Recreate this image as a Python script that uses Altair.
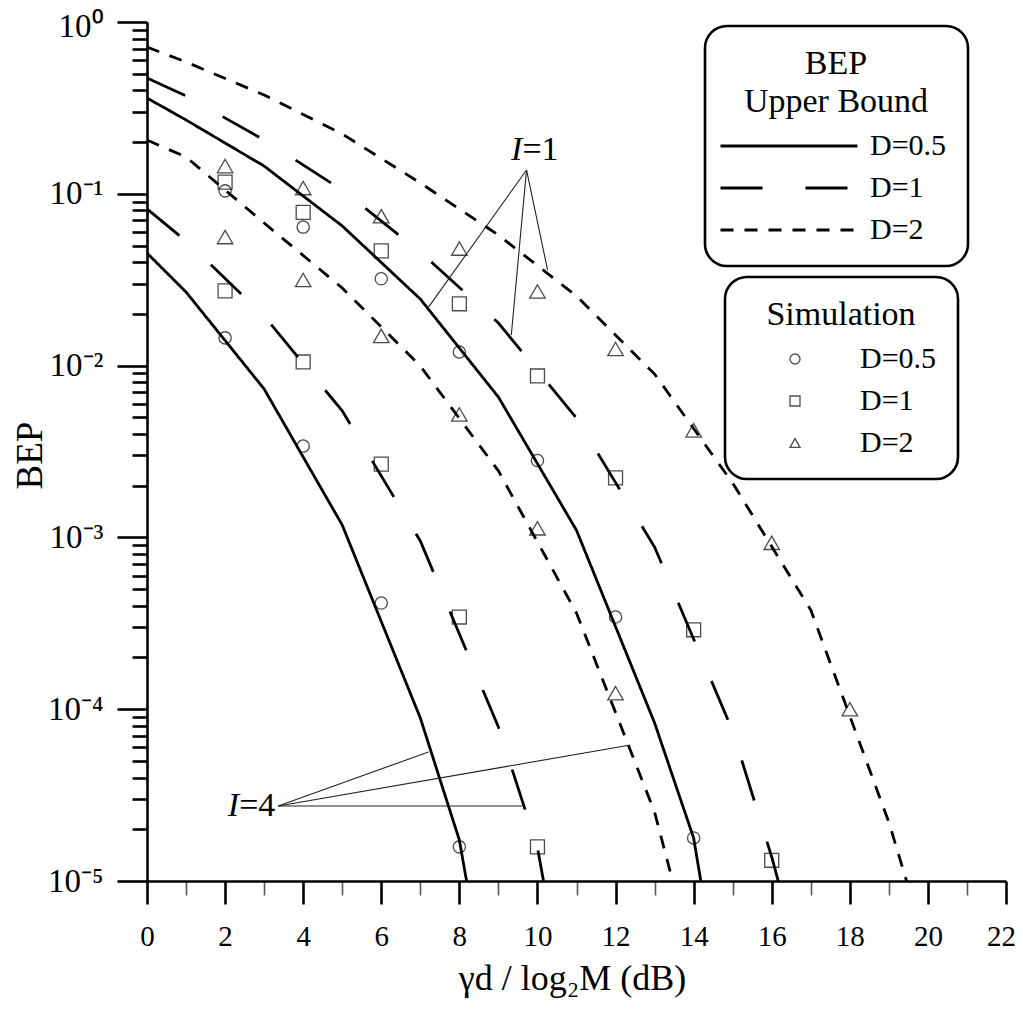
import altair as alt
import pandas as pd

FONT = "Liberation Serif"

# ---------------- Upper bound curves ----------------
ub_x_i4_d05 = [0, 1, 3, 5, 7, 8, 9]
ub_y_i4_d05 = [0.0452, 0.0268, 7.31e-3, 1.18e-3, 8.89e-5, 1.73e-5, 8.9e-7]
ub_x_i4_d1 = [0, 1, 3, 5, 7, 9, 10, 11]
ub_y_i4_d1 = [0.0817, 0.0531, 0.01945, 5.45e-3, 9.53e-4, 7.87e-5, 1.56e-5, 8.9e-7]
ub_x_i4_d2 = [0, 1, 3, 5, 7, 9, 11, 13, 14]
ub_y_i4_d2 = [0.2056, 0.1637, 0.0676, 0.0283, 9.95e-3, 2.44e-3, 3.63e-4, 2.52e-5, 3.4e-6]
ub_x_i1_d05 = [0, 1, 3, 5, 7, 9, 11, 13, 14, 15]
ub_y_i1_d05 = [0.361, 0.269, 0.145, 0.0650, 0.0244, 6.56e-3, 1.10e-3, 8.32e-5, 1.78e-5, 7.7e-7]
ub_x_i1_d1 = [0, 1, 3, 5, 7, 9, 11, 13, 15, 16, 17]
ub_y_i1_d1 = [0.472, 0.371, 0.2056, 0.1052, 0.0458, 0.0177, 4.95e-3, 8.79e-4, 7.46e-5, 1.38e-5, 1.98e-6]
ub_x_i1_d2 = [0, 1, 3, 5, 7, 9, 11, 13, 15, 17, 19, 20]
ub_y_i1_d2 = [0.715, 0.585, 0.376, 0.223, 0.1156, 0.0575, 0.0254, 8.93e-3, 2.07e-3, 3.78e-4, 2.20e-5, 3.86e-6]

# ---------------- Simulation points ----------------
sim_x_i4_d05 = [2, 4, 6, 8]
sim_y_i4_d05 = [0.0145, 3.4e-3, 4.15e-4, 1.58e-5]
sim_x_i1_d05 = [2, 4, 6, 8, 10, 12, 14]
sim_y_i1_d05 = [0.104, 0.064, 0.032, 0.012, 2.8e-3, 3.44e-4, 1.78e-5]
sim_x_i4_d1 = [2, 4, 6, 8, 10]
sim_y_i4_d1 = [0.0272, 0.0105, 2.67e-3, 3.44e-4, 1.58e-5]
sim_x_i1_d1 = [2, 4, 6, 8, 10, 12, 14, 16]
sim_y_i1_d1 = [0.117, 0.078, 0.0465, 0.0229, 8.7e-3, 2.22e-3, 2.9e-4, 1.32e-5]
sim_x_i4_d2 = [2, 4, 6, 8, 10, 12]
sim_y_i4_d2 = [0.056, 0.0315, 0.0149, 5.2e-3, 1.13e-3, 1.24e-4]
sim_x_i1_d2 = [2, 4, 6, 8, 10, 12, 14, 16, 18]
sim_y_i1_d2 = [0.145, 0.108, 0.074, 0.048, 0.027, 0.0125, 4.2e-3, 9.3e-4, 1.0e-4]

D_values = ["0.5", "1", "2"]           # D parameter of the upper-bound curves
D_labels = ["D=0.5", "D=1", "D=2"]     # D parameter of the simulation points
D_numbers = [0.5, 1, 2]                # same, numeric (marker size key)

# ---------------- Annotations ----------------
ann_x = [9.72, 9.72, 9.72, 3.36, 3.36, 3.36]
ann_y = [0.1376, 0.1376, 0.1376, 2.73e-5, 2.73e-5, 2.73e-5]
ann_x2 = [7.21, 9.33, 10.26, 7.21, 12.38, 9.62]
ann_y2 = [0.0219, 0.01507, 0.036, 5.64e-5, 6.19e-5, 2.73e-5]
lab_x = [9.615, 2.36]
lab_y = [0.157, 2.39e-5]
lab_num = ["=1", "=4"]

ytick_pows = [0, -1, -2, -3, -4, -5]
ytick_text = ["10\u2070", "10\u207b\u00b9", "10\u207b\u00b2", "10\u207b\u00b3", "10\u207b\u2074", "10\u207b\u2075"]


def curves_df():
    rows = []
    sets = [
        (4, "0.5", ub_x_i4_d05, ub_y_i4_d05), (4, "1", ub_x_i4_d1, ub_y_i4_d1),
        (4, "2", ub_x_i4_d2, ub_y_i4_d2), (1, "0.5", ub_x_i1_d05, ub_y_i1_d05),
        (1, "1", ub_x_i1_d1, ub_y_i1_d1), (1, "2", ub_x_i1_d2, ub_y_i1_d2),
    ]
    for i, d, xs, ys in sets:
        for k, (a, b) in enumerate(zip(xs, ys)):
            rows.append({"x": a, "bep": b, "Dl": d, "I": i, "o": k})
    return pd.DataFrame(rows)


def sim_df():
    rows = []
    sets = [
        (4, 0, sim_x_i4_d05, sim_y_i4_d05), (1, 0, sim_x_i1_d05, sim_y_i1_d05),
        (4, 1, sim_x_i4_d1, sim_y_i4_d1), (1, 1, sim_x_i1_d1, sim_y_i1_d1),
        (4, 2, sim_x_i4_d2, sim_y_i4_d2), (1, 2, sim_x_i1_d2, sim_y_i1_d2),
    ]
    for i, j, xs, ys in sets:
        for a, b in zip(xs, ys):
            rows.append({"x": a, "bep": b, "Ds": D_labels[j], "Dn": D_numbers[j], "I": i})
    return pd.DataFrame(rows)


ann_df = pd.DataFrame({"x": ann_x, "bep": ann_y, "x2": ann_x2, "bep2": ann_y2})
lab_df = pd.DataFrame({"x": lab_x, "bep": lab_y, "num": lab_num, "I": ["I", "I"]})

is_major_y = "abs(log(datum.value)/LN10 - round(log(datum.value)/LN10)) < 0.001"
ylab = "''"
for p, t in zip(reversed(ytick_pows), reversed(ytick_text)):
    ylab = f"round(log(datum.value)/LN10) == {p} ? '{t}' : ({ylab})"
ylab_expr = f"({is_major_y}) ? ({ylab}) : ''"

yvals = [k * 10.0 ** e for e in range(-5, 0) for k in range(1, 10)] + [1.0]

x_axis = alt.Axis(
    values=list(range(0, 23)),
    labelExpr="datum.value % 2 == 0 ? format(datum.value, 'd') : ''",
    tickSize={"condition": {"test": "datum.value % 2 == 0", "value": 23}, "value": 14},
    tickWidth={"condition": {"test": "datum.value % 2 == 0", "value": 2.6}, "value": 1.6},
    tickColor={"condition": {"test": "datum.value % 2 == 0", "value": "black"}, "value": "#555555"},
    labelOffset={"condition": {"test": "datum.value > 21", "value": -5}, "value": 0},
    labelPadding=18, labelFontSize=29, labelFont=FONT, labelColor="black",
    labelFlush=False, labelOverlap=False, labelBound=False,
    domainColor="black", domainWidth=2.6, grid=False,
    title="\u03b3d / log\u2082M (dB)", titleFont=FONT, titleFontSize=36,
    titleFontWeight="normal", titleColor="black",
    titleX=425, titleY=97, titleBaseline="middle", titleAlign="center",
)
y_axis = alt.Axis(
    values=yvals, labelExpr=ylab_expr,
    tickSize={"condition": {"test": is_major_y, "value": 30}, "value": 15},
    tickWidth=2.6, tickColor="black",
    labelOffset={"condition": {"test": "datum.value > 0.5", "value": 4}, "value": 0},
    labelPadding=14, labelFontSize=33, labelFont=FONT, labelColor="black",
    labelFlush=False, labelOverlap=False, labelBound=False,
    domainColor="black", domainWidth=2.6, grid=False,
    title="BEP", titleFont=FONT, titleFontSize=37, titleFontWeight="normal",
    titleColor="black", titleX=-117, titleY=433, titleBaseline="middle", titleAngle=270,
    titleAlign="center",
)

xs = alt.Scale(domain=[0, 22], nice=False, zero=False)
ys = alt.Scale(type="log", domain=[1e-5, 1], nice=False)

X = alt.X("x:Q", scale=xs, axis=x_axis)
Y = alt.Y("bep:Q", scale=ys, axis=y_axis)

lines = alt.Chart(curves_df()).mark_line(clip=True, strokeWidth=2.8, color="black").encode(
    x=X, y=Y,
    detail="I:N",
    order="o:Q",
    strokeDash=alt.StrokeDash(
        "Dl:N",
        scale=alt.Scale(domain=D_values, range=[[1, 0], [42, 43], [13, 11]]),
        legend=alt.Legend(
            title=["BEP", "Upper Bound"], orient="none", legendX=558, legendY=4,
            labelExpr="'D=' + datum.label",
            symbolType="M-13.7,0H13.7", symbolSize=100, symbolStrokeWidth=2.8,
            symbolStrokeColor="black", symbolOffset=48,
            labelOffset=66, labelFont=FONT, labelFontSize=30, labelColor="black",
            titleFont=FONT, titleFontSize=34, titleFontWeight="normal", titleColor="black",
            titleAnchor="middle", titleAlign="center", titleLineHeight=38, titlePadding=12,
            titleLimit=400, labelLimit=300,
            cornerRadius=22, strokeColor="black", padding=21, rowPadding=12,
        ),
    ),
)

points = alt.Chart(sim_df()).mark_point(filled=False, strokeWidth=1.3, color="black").encode(
    x=X, y=Y,
    shape=alt.Shape(
        "Ds:N",
        scale=alt.Scale(domain=D_labels, range=["circle", "square", "triangle-up"]),
        legend=alt.Legend(
            title="Simulation", orient="none", legendX=578, legendY=255,
            symbolStrokeWidth=1.3, symbolStrokeColor="black", symbolOffset=34,
            labelOffset=50, labelFont=FONT, labelFontSize=30, labelColor="black",
            titleFont=FONT, titleFontSize=34, titleFontWeight="normal", titleColor="black",
            titleAnchor="middle", titleAlign="center", titlePadding=12,
            titleLimit=400, labelLimit=300,
            cornerRadius=22, strokeColor="black", padding=21, rowPadding=12,
        ),
    ),
    size=alt.Size("Dn:O", scale=alt.Scale(domain=D_numbers, range=[150, 240, 210]), legend=None),
)

rules = alt.Chart(ann_df).mark_rule(strokeWidth=1.1, color="#222222").encode(
    x=X, y=Y, x2="x2:Q", y2="bep2:Q"
)

txt_i = alt.Chart(lab_df).mark_text(
    font=FONT, fontSize=34, fontStyle="italic", align="right", baseline="alphabetic", color="black"
).encode(x=X, y=Y, text="I:N")
txt_n = alt.Chart(lab_df).mark_text(
    font=FONT, fontSize=34, align="left", baseline="alphabetic", color="black"
).encode(x=X, y=Y, text="num:N")

chart = alt.layer(lines, points, rules, txt_i, txt_n).properties(
    width=859, height=859,
    autosize=alt.AutoSizeParams(type="none"),
    padding={"left": 139, "top": 14, "right": 9, "bottom": 121},
).configure_view(stroke=None).configure_legend(strokeWidth=2.6)

chart.save("out.html", embed_options={"renderer": "svg", "actions": False})
